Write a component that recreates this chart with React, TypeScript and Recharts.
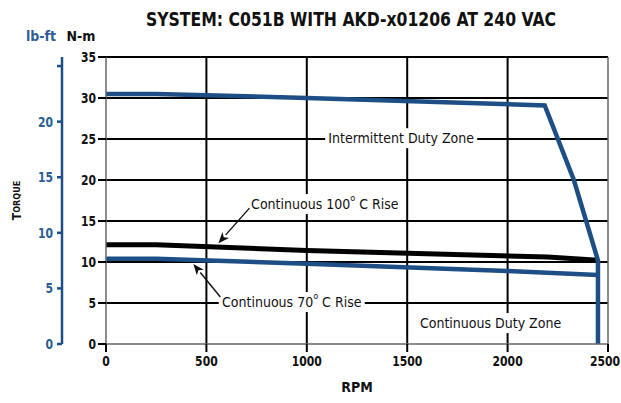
import { LineChart, Line, XAxis, YAxis, CartesianGrid, ReferenceLine, ReferenceDot, Label } from "recharts"

// axis ticks
const rpmTicks = [0, 500, 1000, 1500, 2000, 2500]
const nmTicks = [0, 5, 10, 15, 20, 25, 30, 35]
const lbTicks = [0, 5, 10, 15, 20, 25]
const lbLabelled = [0, 5, 10, 15, 20]

// torque curves (rpm, N-m)
const intermittentRpm = [0, 250, 1000, 2185, 2330, 2450, 2450]
const intermittentNm = [30.5, 30.5, 30.0, 29.1, 20.0, 10.2, 0]
const cont100Rpm = [0, 250, 1000, 2200, 2450]
const cont100Nm = [12.1, 12.1, 11.4, 10.6, 10.2]
const cont70Rpm = [0, 250, 1000, 2000, 2450]
const cont70Nm = [10.4, 10.4, 9.8, 8.9, 8.4]

const NM_PER_LBFT = 1.35582

const toPoints = (rpm: number[], nm: number[]) => rpm.map((r, i) => ({ rpm: r, torque: nm[i] }))

const FONT = '"DejaVu Sans Condensed", "DejaVu Sans", sans-serif'
const BLUE = "#1d4f86"
const BLUE_TEXT = "#2c5d94"

// axis ids: "a" sits next to the plot, "b" outside it
const NM = "a"
const LB = "b"

// condensed bold tick text (the original uses a condensed face)
function tick(fill: string, axis: "x" | "y", show?: number[]) {
  return (props: any) => {
    const { x, y, payload } = props
    if (show && !show.includes(payload.value)) return <g />
    return (
      <g transform={`translate(${x},${y}) scale(0.86,1)`}>
        <text
          x={0}
          y={0}
          dy={axis === "x" ? "0.75em" : "0.36em"}
          textAnchor={axis === "x" ? "middle" : "end"}
          fontFamily={FONT}
          fontSize={14}
          fontWeight={700}
          fill={fill}
        >
          {payload.value}
        </text>
      </g>
    )
  }
}

function boxText(text: string, w: number, sup?: [string, string]) {
  return (props: any) => {
    const { cx, cy } = props
    return (
      <g>
        <rect x={cx - w / 2} y={cy - 10} width={w} height={20} fill="#fff" />
        <text x={cx} y={cy} textAnchor="middle" dominantBaseline="central" fontFamily={FONT} fontSize={14} fill="#111">
          {sup ? (
            <>
              <tspan>{sup[0]}</tspan>
              <tspan dy={-6} fontSize={9}>o</tspan>
              <tspan dy={6}>{sup[1]}</tspan>
            </>
          ) : (
            text
          )}
        </text>
      </g>
    )
  }
}

function arrow(dx: number, dy: number) {
  return (props: any) => {
    const { cx, cy } = props
    const len = Math.hypot(dx, dy)
    const ux = dx / len
    const uy = dy / len
    const hl = 11
    const hw = 4.5
    const bx = cx + ux * hl
    const by = cy + uy * hl
    const px = -uy
    const py = ux
    return (
      <g>
        <line x1={cx + dx} y1={cy + dy} x2={bx} y2={by} stroke="#111" strokeWidth={1.4} />
        <polygon
          points={`${cx},${cy} ${bx + px * hw},${by + py * hw} ${cx + ux * (hl - 3)},${cy + uy * (hl - 3)} ${bx - px * hw},${by - py * hw}`}
          fill="#111"
        />
      </g>
    )
  }
}

export default function App() {
  return (
    <div style={{ position: "absolute", left: 0, top: 0, width: 621, height: 403, background: "#fff" }}>
      <div
        style={{
          position: "absolute",
          left: 351 - 300,
          width: 600,
          top: 7,
          textAlign: "center",
          fontFamily: FONT,
          fontWeight: 700,
          fontSize: 20,
          color: "#111",
          whiteSpace: "nowrap",
          transform: "scaleX(0.87)",
        }}
      >
        SYSTEM: C051B WITH AKD-x01206 AT 240 VAC
      </div>
      <LineChart width={621} height={403} margin={{ top: 57, right: 13, left: 0, bottom: 29 }}>
        <CartesianGrid
          yAxisId={NM}
          stroke="#000"
          strokeWidth={2}
          horizontalValues={[5, 10, 15, 20, 25, 30, 35]}
          verticalValues={[500, 1000, 1500, 2000]}
        />
        <XAxis
          type="number"
          dataKey="rpm"
          domain={[0, 2500]}
          ticks={rpmTicks}
          height={30}
          tickSize={8}
          tickMargin={3}
          axisLine={{ stroke: "#666", strokeWidth: 1.5 }}
          tickLine={{ stroke: "#000", strokeWidth: 2 }}
          tick={tick("#111", "x")}
        >
          <Label
            content={(p: any) => {
              const vb = p.viewBox
              return (
                <text x={vb.x + vb.width / 2} y={vb.y + 43} textAnchor="middle" dominantBaseline="central" fontFamily={FONT} fontSize={14} fontWeight={700} fill="#111">
                  RPM
                </text>
              )
            }}
          />
        </XAxis>
        <YAxis
          yAxisId={NM}
          type="number"
          domain={[0, 35]}
          ticks={nmTicks}
          width={44}
          tickSize={8}
          tickMargin={2}
          allowDataOverflow
          axisLine={{ stroke: "#666", strokeWidth: 1.5 }}
          tickLine={{ stroke: "#000", strokeWidth: 2 }}
          tick={tick("#111", "y")}
        >
          <Label
            content={(p: any) => {
              const vb = p.viewBox
              return (
                <text x={vb.x + vb.width - 25} y={vb.y - 21} textAnchor="middle" dominantBaseline="central" fontFamily={FONT} fontSize={14} fontWeight={700} fill="#111">
                  N-m
                </text>
              )
            }}
          />
        </YAxis>
        <YAxis
          yAxisId={LB}
          type="number"
          domain={[0, 35 / NM_PER_LBFT]}
          ticks={lbTicks}
          width={62}
          tickSize={5}
          tickMargin={4}
          allowDataOverflow
          axisLine={{ stroke: BLUE, strokeWidth: 2.5 }}
          tickLine={{ stroke: BLUE, strokeWidth: 2.5 }}
          tick={tick(BLUE_TEXT, "y", lbLabelled)}
        >
          <Label
            content={(p: any) => {
              const vb = p.viewBox
              return (
                <g>
                  <text x={vb.x + 41} y={vb.y - 21} textAnchor="middle" dominantBaseline="central" fontFamily={FONT} fontSize={14} fontWeight={700} fill={BLUE_TEXT}>
                    lb-ft
                  </text>
                  <text
                    transform={`translate(${vb.x + 17}, ${vb.y + vb.height / 2}) rotate(-90)`}
                    textAnchor="middle"
                    dominantBaseline="central"
                    fontFamily={FONT}
                    fontWeight={700}
                    fill="#111"
                  >
                    <tspan fontSize={12}>T</tspan>
                    <tspan fontSize={9}>ORQUE</tspan>
                  </text>
                </g>
              )
            }}
          />
        </YAxis>
        <ReferenceLine yAxisId={NM} x={2500} stroke="#666" strokeWidth={1.5} />
        <Line
          yAxisId={NM}
          data={toPoints(cont70Rpm, cont70Nm)}
          dataKey="torque"
          stroke={BLUE}
          strokeWidth={4.5}
          dot={false}
          activeDot={false}
          isAnimationActive={false}
        />
        <Line
          yAxisId={NM}
          data={toPoints(cont100Rpm, cont100Nm)}
          dataKey="torque"
          stroke="#000"
          strokeWidth={5}
          dot={false}
          activeDot={false}
          isAnimationActive={false}
        />
        <Line
          yAxisId={NM}
          data={toPoints(intermittentRpm, intermittentNm)}
          dataKey="torque"
          stroke={BLUE}
          strokeWidth={4.5}
          dot={false}
          activeDot={false}
          isAnimationActive={false}
        />
        <ReferenceDot yAxisId={NM} x={1470} y={25.1} r={1} shape={boxText("Intermittent Duty Zone", 152)} />
        <ReferenceDot yAxisId={NM} x={1915} y={2.55} r={1} shape={boxText("Continuous Duty Zone", 146)} />
        <ReferenceDot yAxisId={NM} x={1090} y={17.07} r={1} shape={boxText("", 150, ["Continuous 100", " C Rise"])} />
        <ReferenceDot yAxisId={NM} x={925} y={5.12} r={1} shape={boxText("", 146, ["Continuous 70", " C Rise"])} />
        <ReferenceDot yAxisId={NM} x={560} y={12.3} r={1} shape={arrow(31, -35)} />
        <ReferenceDot yAxisId={NM} x={435} y={9.76} r={1} shape={arrow(27, 33)} />
      </LineChart>
    </div>
  )
}
